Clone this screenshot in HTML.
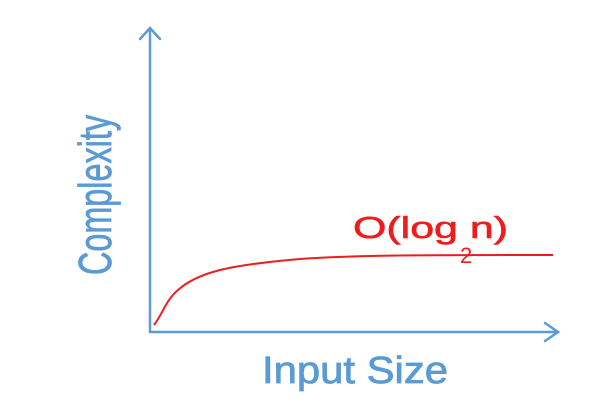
<!DOCTYPE html>
<html><head><style>html,body{margin:0;padding:0;background:#fff;}</style></head>
<body>
<svg width="600" height="400" viewBox="0 0 600 400" xmlns="http://www.w3.org/2000/svg">
<g stroke="#5b9bd5" stroke-width="2.5" fill="none" stroke-linecap="round">
<line x1="150" y1="28" x2="150" y2="332"/>
<line x1="150" y1="332" x2="558" y2="332"/>
<polyline points="140,39 150,28 160,39"/>
<polyline points="545,323 558,332 545,341"/>
</g>
<path d="M154,325 C162,315 166,300 178,290 C198,272 230,265 300,259 C360,255 420,255 553,255" stroke="#ee1c1c" stroke-width="2" fill="none"/>
<text x="353" y="238" font-family="Liberation Sans, sans-serif" font-size="31" fill="#ee1c1c" stroke="#ee1c1c" stroke-width="0.6" textLength="155" lengthAdjust="spacingAndGlyphs">O(log n)</text>
<text x="460" y="263" font-family="Liberation Sans, sans-serif" font-size="22" fill="#ee1c1c">2</text>
<text x="262" y="383" font-family="Liberation Sans, sans-serif" font-size="38" fill="#5b9bd5" stroke="#5b9bd5" stroke-width="0.8" textLength="186" lengthAdjust="spacingAndGlyphs">Input Size</text>
<text transform="translate(111,275) rotate(-90)" font-family="Liberation Sans, sans-serif" font-size="46" fill="#5b9bd5" stroke="#5b9bd5" stroke-width="0.8" textLength="160" lengthAdjust="spacingAndGlyphs">Complexity</text>
</svg>
</body></html>
